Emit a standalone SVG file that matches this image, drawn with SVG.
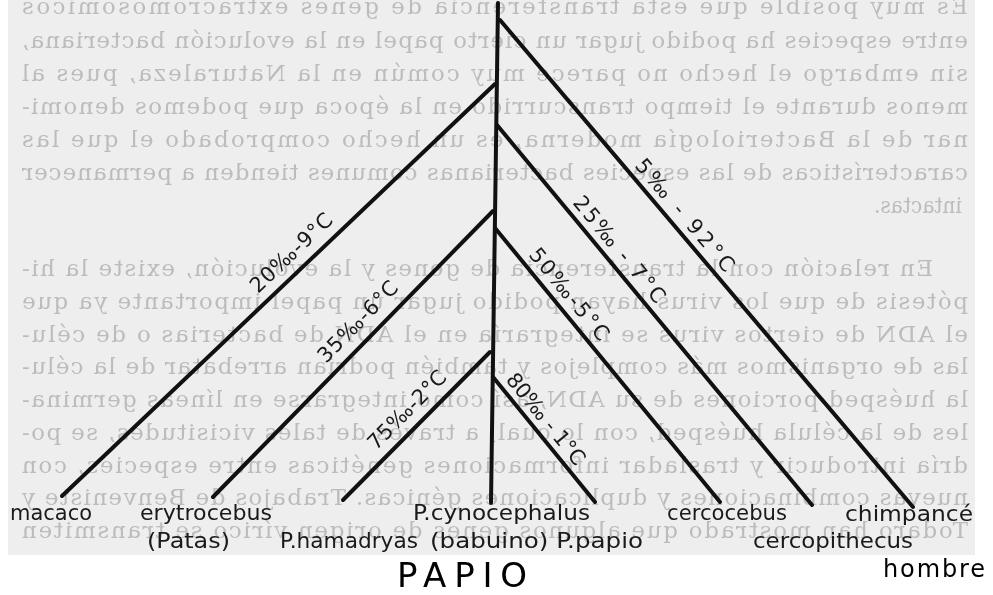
<svg xmlns="http://www.w3.org/2000/svg" width="993" height="595" viewBox="0 0 993 595">
  <style>
    .bleed { font-family: "DejaVu Serif", "Liberation Serif", serif; font-size: 23px; fill: #bcbcbc; }
    .branch { stroke: #111; stroke-width: 4; stroke-linecap: round; fill: none; }
    .tag { font-family: "DejaVu Sans", "Liberation Sans", sans-serif; font-size: 21px; fill: #1a1a1a; }
    .name { font-family: "DejaVu Sans", "Liberation Sans", sans-serif; font-size: 22px; fill: #1a1a1a; }
    .big { font-family: "DejaVu Sans", "Liberation Sans", sans-serif; fill: #000; }
  </style>
  <defs>
    <clipPath id="page">
      <rect x="8" y="0" width="967" height="555"/>
    </clipPath>
    <filter id="soft" x="-2%" y="-2%" width="104%" height="104%">
      <feGaussianBlur stdDeviation="0.7"/>
    </filter>
  </defs>

  <rect width="993" height="595" fill="#ffffff"/>
  <!-- scanned page area -->
  <rect x="8" y="0" width="967" height="555" fill="#eeeeee"/>

  <!-- text showing through from the back of the page (mirrored) -->
  <g id="backside-text" clip-path="url(#page)" filter="url(#soft)">
    <text class="bleed" transform="translate(968,14) scale(-1,1)" textLength="946" lengthAdjust="spacing">Es muy posible que esta transferencia de genes extracromosómicos</text>
    <text class="bleed" transform="translate(968,48) scale(-1,1)" textLength="946" lengthAdjust="spacing">entre especies ha podido jugar un cierto papel en la evolución bacteriana,</text>
    <text class="bleed" transform="translate(968,81) scale(-1,1)" textLength="946" lengthAdjust="spacing">sin embargo el hecho no parece muy común en la Naturaleza, pues al</text>
    <text class="bleed" transform="translate(968,114) scale(-1,1)" textLength="946" lengthAdjust="spacing">menos durante el tiempo transcurrido en la época que podemos denomi-</text>
    <text class="bleed" transform="translate(968,147) scale(-1,1)" textLength="946" lengthAdjust="spacing">nar de la Bacteriología moderna, es un hecho comprobado el que las</text>
    <text class="bleed" transform="translate(968,180) scale(-1,1)" textLength="946" lengthAdjust="spacing">características de las especies bacterianas comunes tienden a permanecer</text>
    <text class="bleed" transform="translate(962,213) scale(-1,1)" textLength="88" lengthAdjust="spacingAndGlyphs">intactas.</text>
    <text class="bleed" transform="translate(933,276) scale(-1,1)" textLength="911" lengthAdjust="spacing">En relación con la transferencia de genes y la evolución, existe la hi-</text>
    <text class="bleed" transform="translate(968,309) scale(-1,1)" textLength="946" lengthAdjust="spacing">pótesis de que los virus hayan podido jugar un papel importante ya que</text>
    <text class="bleed" transform="translate(968,342) scale(-1,1)" textLength="946" lengthAdjust="spacing">el ADN de ciertos virus se integraría en el ADN de bacterias o de célu-</text>
    <text class="bleed" transform="translate(968,374) scale(-1,1)" textLength="946" lengthAdjust="spacing">las de organismos más complejos y también podrían arrebatar de la célu-</text>
    <text class="bleed" transform="translate(968,407) scale(-1,1)" textLength="946" lengthAdjust="spacing">la huésped porciones de su ADN, así como integrarse en líneas germina-</text>
    <text class="bleed" transform="translate(968,440) scale(-1,1)" textLength="946" lengthAdjust="spacing">les de la célula huésped, con lo cual, a través de tales vicisitudes, se po-</text>
    <text class="bleed" transform="translate(968,473) scale(-1,1)" textLength="946" lengthAdjust="spacing">dría introducir y trasladar informaciones genéticas entre especies, con</text>
    <text class="bleed" transform="translate(968,505) scale(-1,1)" textLength="946" lengthAdjust="spacing">nuevas combinaciones y duplicaciones génicas. Trabajos de Benveniste y</text>
    <text class="bleed" transform="translate(968,538) scale(-1,1)" textLength="946" lengthAdjust="spacing">Todaro han mostrado que algunos genes de origen vírico se transmiten</text>
  </g>

  <!-- tree branches -->
  <g id="connectors">
    <line id="trunk" class="branch" x1="498" y1="3" x2="491" y2="503"/>
    <line id="to-chimpance" class="branch" x1="500" y1="20" x2="913" y2="507"/>
    <line id="to-macaco" class="branch" x1="495" y1="84" x2="62" y2="496"/>
    <line id="to-cercopithecus" class="branch" x1="497" y1="125" x2="812" y2="505"/>
    <line id="to-erytrocebus" class="branch" x1="493" y1="211" x2="213" y2="497"/>
    <line id="to-cercocebus" class="branch" x1="495" y1="228" x2="720" y2="502"/>
    <line id="to-hamadryas" class="branch" x1="490" y1="352" x2="343" y2="500"/>
    <line id="to-papio" class="branch" x1="493" y1="377" x2="595" y2="502"/>
  </g>

  <!-- divergence labels along the branches -->
  <g id="branch-labels">
    <text class="tag" transform="translate(634,166) rotate(49.7)" textLength="141" lengthAdjust="spacing">5‰ - 92°C</text>
    <text class="tag" transform="translate(572,203) rotate(50.4)" textLength="132" lengthAdjust="spacing">25‰ - 7°C</text>
    <text class="tag" transform="translate(528,255) rotate(50.6)" textLength="113" lengthAdjust="spacing">50‰-5°C</text>
    <text class="tag" transform="translate(505,380) rotate(50.8)" textLength="112" lengthAdjust="spacing">80‰ - 1°C</text>
    <text class="tag" transform="translate(258,294) rotate(-43.6)" textLength="105" lengthAdjust="spacing">20‰-9°C</text>
    <text class="tag" transform="translate(326,364) rotate(-45.6)" textLength="105" lengthAdjust="spacing">35‰-6°C</text>
    <text class="tag" transform="translate(376,451) rotate(-45.2)" textLength="102" lengthAdjust="spacing">75‰-2°C</text>
  </g>

  <!-- leaf nodes -->
  <g id="macaco"><text class="name" x="10" y="520" textLength="82" lengthAdjust="spacingAndGlyphs">macaco</text></g>
  <g id="erytrocebus">
    <text class="name" x="140" y="520" textLength="132" lengthAdjust="spacingAndGlyphs">erytrocebus</text>
    <text class="name" x="147" y="548" textLength="83" lengthAdjust="spacingAndGlyphs">(Patas)</text>
  </g>
  <g id="hamadryas"><text class="name" x="280" y="548" textLength="138" lengthAdjust="spacingAndGlyphs">P.hamadryas</text></g>
  <g id="cynocephalus"><text class="name" x="413" y="520" textLength="177" lengthAdjust="spacingAndGlyphs">P.cynocephalus</text></g>
  <g id="papio"><text class="name" x="430" y="548" textLength="213" lengthAdjust="spacingAndGlyphs">(babuino) P.papio</text></g>
  <g id="cercocebus"><text class="name" x="667" y="520" textLength="120" lengthAdjust="spacingAndGlyphs">cercocebus</text></g>
  <g id="cercopithecus"><text class="name" x="753" y="548" textLength="160" lengthAdjust="spacingAndGlyphs">cercopithecus</text></g>
  <g id="chimpance">
    <text class="name" x="845" y="521" textLength="128" lengthAdjust="spacingAndGlyphs">chimpancé</text>
    <text class="big" x="883" y="577" font-size="24" textLength="102" lengthAdjust="spacing">hombre</text>
  </g>
  <g id="genus-papio"><text class="big" x="397" y="587" font-size="34" textLength="130" lengthAdjust="spacing">PAPIO</text></g>
</svg>
